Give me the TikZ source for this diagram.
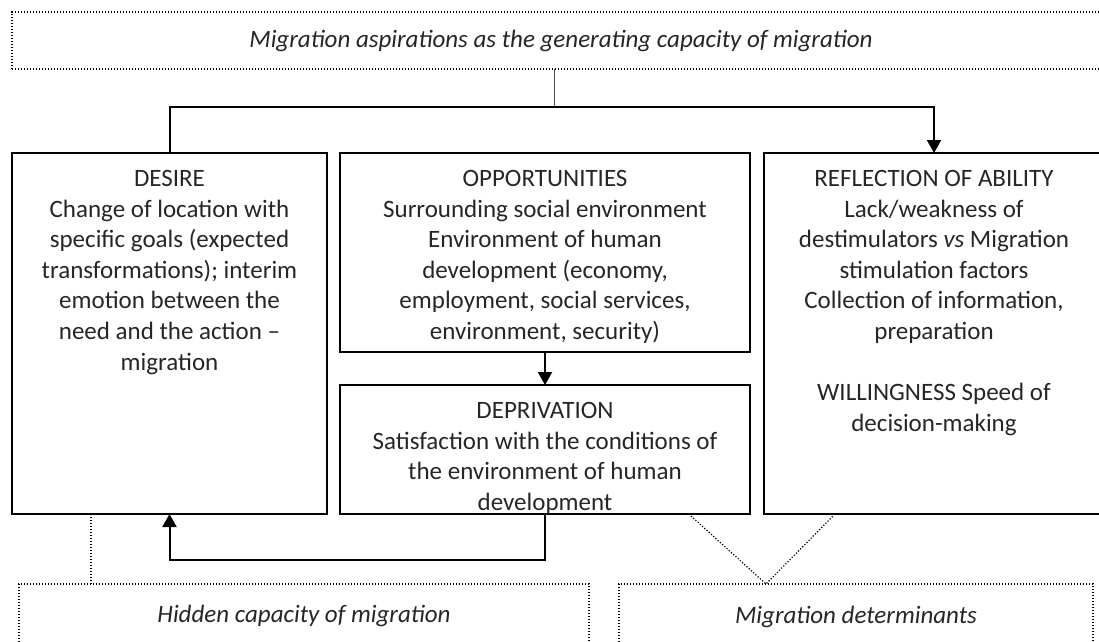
\documentclass[tikz,border=0pt]{standalone}
\usepackage{fontspec}
\setmainfont{Carlito}
\usetikzlibrary{positioning,arrows.meta}

\tikzset{
  frame/.style={draw, line width=2.7pt, inner sep=0pt, outer sep=0pt},
  hint/.style={draw, line width=1.2pt, dash pattern=on 1.2pt off 1.8pt, inner sep=0pt, outer sep=0pt},
  txt/.style={align=center, inner sep=0pt, text=black!85},
  note/.style={txt, font=\fontsize{25}{30.6}\selectfont\itshape},
  link/.style={line width=2pt},
  tip/.style={-{Triangle[width=14pt,length=13pt]}},
}

\begin{document}
\begin{tikzpicture}[x=1pt,y=-1pt,font=\fontsize{25}{30.6}\selectfont]
\useasboundingbox (0,0) rectangle (1099,641);
\clip (0,0) rectangle (1099,641);

% dotted frames
\node [hint, minimum width=1130pt, minimum height=57pt, anchor=west] (aspire) at (12,40.5) {};
\node [hint, minimum width=570pt, minimum height=96pt] (hidden) at (304,632) {};
\node [hint, minimum width=474pt, minimum height=96pt] (determ) at (856,632) {};
\node [note] (aspiretxt) at (561,41) {Migration aspirations as the generating capacity of migration};
\node [note] (hiddentxt) at (304,616) {Hidden capacity of migration};
\node [note] (determtxt) at (856,617) {Migration determinants};

% solid boxes
\node [frame, minimum width=315pt, minimum height=361pt] (desire) at (169.5,333.5) {};
\node [frame, minimum width=410pt, minimum height=199pt] (opp) at (545,252.5) {};
\node [frame, minimum width=410pt, minimum height=129pt] (depr) at (545,449.5) {};
\node [frame, minimum width=380pt, minimum height=361pt, anchor=north west] (refl) at (764,153) {};

% connector ends
\coordinate (split) at (554,107);
\coordinate (arrive) at (934,153);
\coordinate (back) at (360,560);
\coordinate (hid) at (91,550);
\coordinate (vl) at (691,516);
\coordinate (vr) at (833,516);
\coordinate (vtip) at (766,584);

\node [txt, below=17pt of desire.north] (desiretxt) {DESIRE\\
Change of location with\\
specific goals (expected\\
transformations); interim\\
emotion between the\\
need and the action --\\
migration};
\node [txt, below=17pt of opp.north] (opptxt) {OPPORTUNITIES\\
Surrounding social environment\\
Environment of human\\
development (economy,\\
employment, social services,\\
environment, security)};
\node [txt, below=17pt of depr.north] (deprtxt) {DEPRIVATION\\
Satisfaction with the conditions of\\
the environment of human\\
development};
\node [txt, below=17pt of arrive] (refltxt) {REFLECTION OF ABILITY\\
Lack/weakness of\\
destimulators \textit{vs} Migration\\
stimulation factors\\
Collection of information,\\
preparation\\[30.6pt]
WILLINGNESS Speed of\\
decision-making};

% connectors
\draw [line width=1pt, black!70] (aspire.south -| split) -- (split);
\draw [link, tip] (desire.north) |- (split) -| (arrive);
\draw [link, tip] (opp) -- (depr);
\draw [link, tip] (depr.south) |- (back) -| (desire.south);
\draw [hint] (desire.south -| hid) -- (hidden.north -| hid);
\draw [hint] (vl) -- (vtip) -- (vr);
\end{tikzpicture}
\end{document}
